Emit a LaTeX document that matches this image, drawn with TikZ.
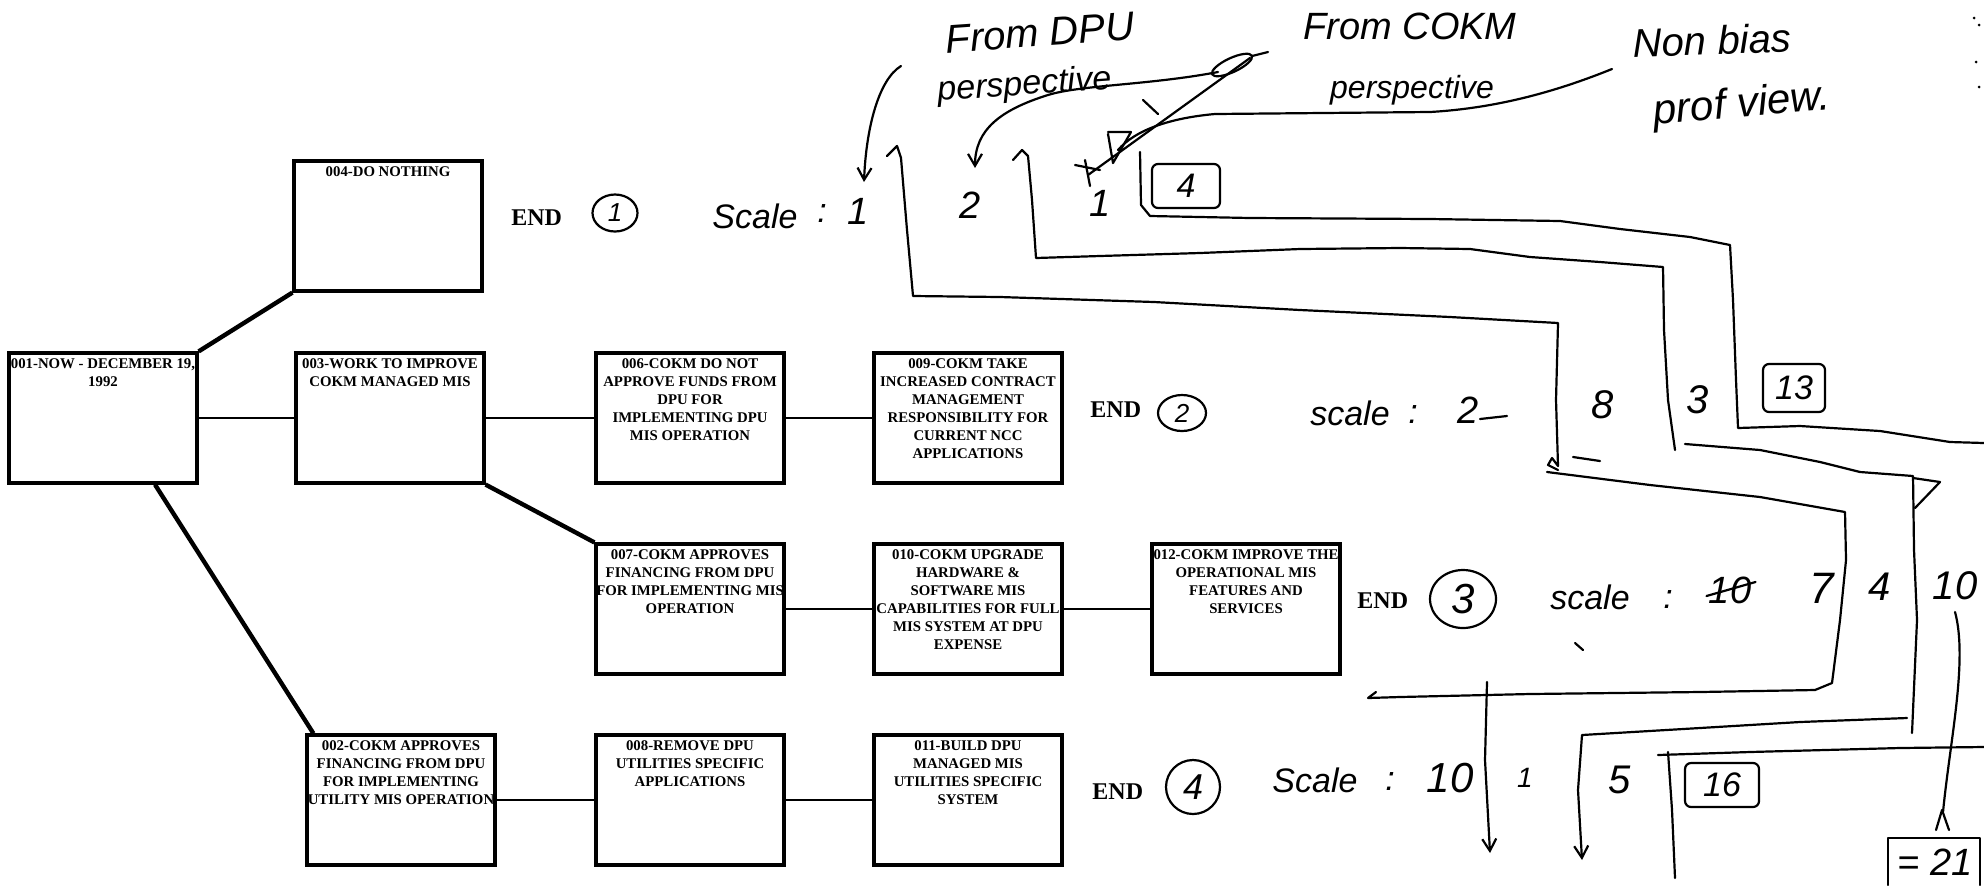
\documentclass[tikz,border=0pt]{standalone}
\usepackage{fontspec}
\setmainfont{Liberation Serif}
\newfontfamily\handfont{Liberation Sans}
\usetikzlibrary{shapes.geometric,arrows.meta,calc}
\begin{document}
\begin{tikzpicture}[x=0.5pt,y=-0.5pt,
  box/.style={draw, line width=1.6pt, minimum width=94pt, minimum height=65pt, inner sep=0pt},
  boxtext/.style={anchor=north, align=center, inner sep=0pt, font=\bfseries\fontsize{7.4}{9}\selectfont, yshift=-3.5pt},
  conn/.style={line width=1pt},
  diag/.style={line width=2.2pt},
  endlbl/.style={anchor=base west, inner sep=0pt, font=\bfseries\fontsize{12}{14}\selectfont},
  hand/.style={line width=1.1pt, line cap=round, line join=round},
  hw/.style={inner sep=0pt, font=\handfont\itshape\fontsize{#1}{#1}\selectfont},
  circ/.style={draw, ellipse, line width=1.1pt, inner sep=0pt},
  tot/.style={draw, rounded corners=3pt, line width=1.1pt, inner sep=0pt, font=\handfont\itshape\fontsize{17}{17}\selectfont},
  barb/.style={-{Straight Barb[length=6pt,width=7pt]}}
]
\fill[white] (0,0) rectangle (1984,885);
\useasboundingbox (0,0) rectangle (1984,885);

% ---------- boxes ----------
\node[box] (b001) at (103,418) {};
\node[boxtext] (t001) at (b001.north) {001-NOW - DECEMBER 19,\\1992};
\node[box] (b004) at (388,226) {};
\node[boxtext] (t004) at (b004.north) {004-DO NOTHING};
\node[box] (b003) at (390,418) {};
\node[boxtext] (t003) at (b003.north) {003-WORK TO IMPROVE\\COKM MANAGED MIS};
\node[box] (b006) at (690,418) {};
\node[boxtext] (t006) at (b006.north) {006-COKM DO NOT\\APPROVE FUNDS FROM\\DPU FOR\\IMPLEMENTING DPU\\MIS OPERATION};
\node[box] (b009) at (968,418) {};
\node[boxtext] (t009) at (b009.north) {009-COKM TAKE\\INCREASED CONTRACT\\MANAGEMENT\\RESPONSIBILITY FOR\\CURRENT NCC\\APPLICATIONS};
\node[box] (b007) at (690,609) {};
\node[boxtext] (t007) at (b007.north) {007-COKM APPROVES\\FINANCING FROM DPU\\FOR IMPLEMENTING MIS\\OPERATION};
\node[box] (b010) at (968,609) {};
\node[boxtext] (t010) at (b010.north) {010-COKM UPGRADE\\HARDWARE \&\\SOFTWARE MIS\\CAPABILITIES FOR FULL\\MIS SYSTEM AT DPU\\EXPENSE};
\node[box] (b012) at (1246,609) {};
\node[boxtext] (t012) at (b012.north) {012-COKM IMPROVE THE\\OPERATIONAL MIS\\FEATURES AND\\SERVICES};
\node[box] (b002) at (401,800) {};
\node[boxtext] (t002) at (b002.north) {002-COKM APPROVES\\FINANCING FROM DPU\\FOR IMPLEMENTING\\UTILITY MIS OPERATION};
\node[box] (b008) at (690,800) {};
\node[boxtext] (t008) at (b008.north) {008-REMOVE DPU\\UTILITIES SPECIFIC\\APPLICATIONS};
\node[box] (b011) at (968,800) {};
\node[boxtext] (t011) at (b011.north) {011-BUILD DPU\\MANAGED MIS\\UTILITIES SPECIFIC\\SYSTEM};

% ---------- connectors ----------
\draw[diag] (b001.north east) -- (b004.south west);
\draw[conn] (b001.east) -- (b003.west);
\draw[conn] (b003.east) -- (b006.west);
\draw[conn] (b006.east) -- (b009.west);
\draw[diag] (b003.south east) -- (b007.north west);
\draw[conn] (b007.east) -- (b010.west);
\draw[conn] (b010.east) -- (b012.west);
\draw[diag] ($(b001.south)+(52,0)$) -- ($(b002.north west)+(8,0)$);
\draw[conn] (b002.east) -- (b008.west);
\draw[conn] (b008.east) -- (b011.west);

% ---------- END labels and circled numbers ----------
\node[endlbl] (end1) at (511,225) {END};
\node[endlbl] (end2) at (1090,417) {END};
\node[endlbl] (end3) at (1357,608) {END};
\node[endlbl] (end4) at (1092,799) {END};
\node[circ, minimum width=22.5pt, minimum height=18.5pt, font=\handfont\itshape\fontsize{13}{13}\selectfont] (c1) at (615,213) {1};
\node[circ, minimum width=24pt, minimum height=18pt, font=\handfont\itshape\fontsize{13}{13}\selectfont] (c2) at (1182,413) {2};
\node[circ, minimum width=33pt, minimum height=29pt, font=\handfont\itshape\fontsize{21}{21}\selectfont] (c3) at (1463,599) {3};
\node[circ, minimum width=27pt, minimum height=27pt, font=\handfont\itshape\fontsize{18}{18}\selectfont] (c4) at (1193,787) {4};

% ---------- handwritten headings ----------
\node[hw=20, rotate=4] (fromdpu) at (1040,33) {From DPU};
\node[hw=17, rotate=4] (persp1) at (1025,86) {perspective};
\node[hw=19] (fromcokm) at (1410,26) {From COKM};
\node[hw=16] (persp2) at (1412,90) {perspective};
\node[hw=20, rotate=2] (nonbias) at (1712,40) {Non bias};
\node[hw=21, rotate=5] (profview) at (1742,106) {prof view.};

% ---------- scale values ----------
\node[hw=17] (s1) at (755,216) {Scale};
\node[hw=17] (eq1) at (822,214) {:};
\node[hw=19] (v1) at (858,211) {1};
\node[hw=17] (s2) at (1350,413) {scale};
\node[hw=17] (eq2) at (1413,415) {:};
\node[hw=19] (v2) at (1468,410) {2};
\draw[hand] (1480,419) -- (1507,416);
\node[hw=17] (s3) at (1590,597) {scale};
\node[hw=17] (eq3) at (1668,600) {:};
\node[hw=19] (v3x) at (1730,590) {10};
\draw[hand] ($(v3x.west)+(-2,6)$) -- ($(v3x.east)+(4,-8)$);
\node[hw=22] (v3) at (1822,588) {7};
\node[hw=17] (s4) at (1315,780) {Scale};
\node[hw=17] (eq4) at (1390,781) {:};
\node[hw=21] (v4) at (1450,778) {10};

% ---------- column values ----------
\node[hw=19] (n12) at (970,205) {2};
\node[hw=19] (n13) at (1100,203) {1};
\node[tot, minimum width=34pt, minimum height=22pt] (tot1) at (1186,186) {4};
\node[hw=20] (n22) at (1603,405) {8};
\node[hw=20] (n23) at (1698,400) {3};
\node[tot, minimum width=31pt, minimum height=24pt] (tot2) at (1794,388) {13};
\node[hw=20] (n32) at (1880,587) {4};
\node[hw=20] (n33) at (1955,586) {10};
\node[hw=14] (n42) at (1525,778) {1};
\node[hw=20] (n43) at (1620,780) {5};
\node[tot, minimum width=37pt, minimum height=22pt] (tot4) at (1722,785) {16};
\node[hw=19] (tot3) at (1935,862) {= 21};
\draw[hand] (1888,885) -- (1888,838) -- (1980,838) -- (1980,885);

% ---------- handwritten separator lines ----------
\draw[hand] (887,156) -- (897,146) -- (901,158) -- (907,230) -- (913,296) -- (1000,297) -- (1154,302) -- (1300,310) -- (1450,317) -- (1558,323) -- (1556,400) -- (1558,466) -- (1552,458) -- (1548,465) -- (1558,470);
\draw[hand] (1573,457) -- (1600,461);
\draw[hand] (1547,472) -- (1650,485) -- (1760,497) -- (1845,512) -- (1846,560) -- (1840,620) -- (1832,683) -- (1815,690) -- (1700,692) -- (1530,694) -- (1400,697) -- (1368,698) -- (1376,692);
\draw[hand] (1013,160) -- (1022,150) -- (1028,156) -- (1032,200) -- (1036,258) -- (1100,256) -- (1200,253) -- (1300,249) -- (1400,248) -- (1470,249) -- (1530,257) -- (1600,262) -- (1663,267) -- (1664,330) -- (1668,400) -- (1675,450);
\draw[hand] (1685,444) -- (1760,450) -- (1820,462) -- (1860,472) -- (1913,476) -- (1914,550) -- (1917,620) -- (1912,733);
\draw[hand] (1913,478) -- (1940,482) -- (1915,508);
\draw[hand, barb] (1907,718) -- (1800,722) -- (1700,728) -- (1582,735) -- (1578,790) -- (1582,860);
\draw[hand] (1140,152) -- (1141,205) -- (1150,216) -- (1250,218) -- (1430,219) -- (1560,221) -- (1620,229) -- (1690,237) -- (1730,245) -- (1733,300) -- (1736,380) -- (1738,428) -- (1800,426) -- (1880,431) -- (1950,442) -- (1984,443);
\draw[hand] (1658,755) -- (1750,752) -- (1900,748) -- (1984,747);
\draw[hand] (1668,752) -- (1672,810) -- (1675,878);
\draw[hand, barb] (1487,682) -- (1485,760) -- (1490,853);
\draw[hand] (1575,643) -- (1583,650);

% ---------- arrows of the headings ----------
\draw[hand, barb] (901,66) .. controls (878,80) and (866,130) .. (864,182);
\draw[hand] (1232,65) ellipse [x radius=22, y radius=7, rotate=25];
\draw[hand] (1252,56) -- (1268,52);
\draw[hand, barb] (1218,72) .. controls (1150,85) and (1080,85) .. (1048,95) .. controls (1000,110) and (975,130) .. (975,168);
\draw[hand] (1250,58) -- (1088,175);
\draw[hand] (1143,100) -- (1158,114);
\draw[hand] (1075,165) -- (1100,170);
\draw[hand] (1085,160) -- (1090,186);
\draw[hand] (1108,132) -- (1131,132) -- (1113,163) -- (1108,134);
\draw[hand] (1612,69) .. controls (1560,90) and (1500,108) .. (1430,112) -- (1215,114) .. controls (1170,118) and (1135,130) .. (1118,150);
\draw[hand] (1955,612) .. controls (1968,660) and (1950,740) .. (1943,812);
\draw[hand] (1936,830) -- (1942,810) -- (1949,830);
\fill (1974,18) circle (1.5) (1979,25) circle (1.5) (1976,62) circle (1.5) (1979,87) circle (1.5);
\end{tikzpicture}
\end{document}
